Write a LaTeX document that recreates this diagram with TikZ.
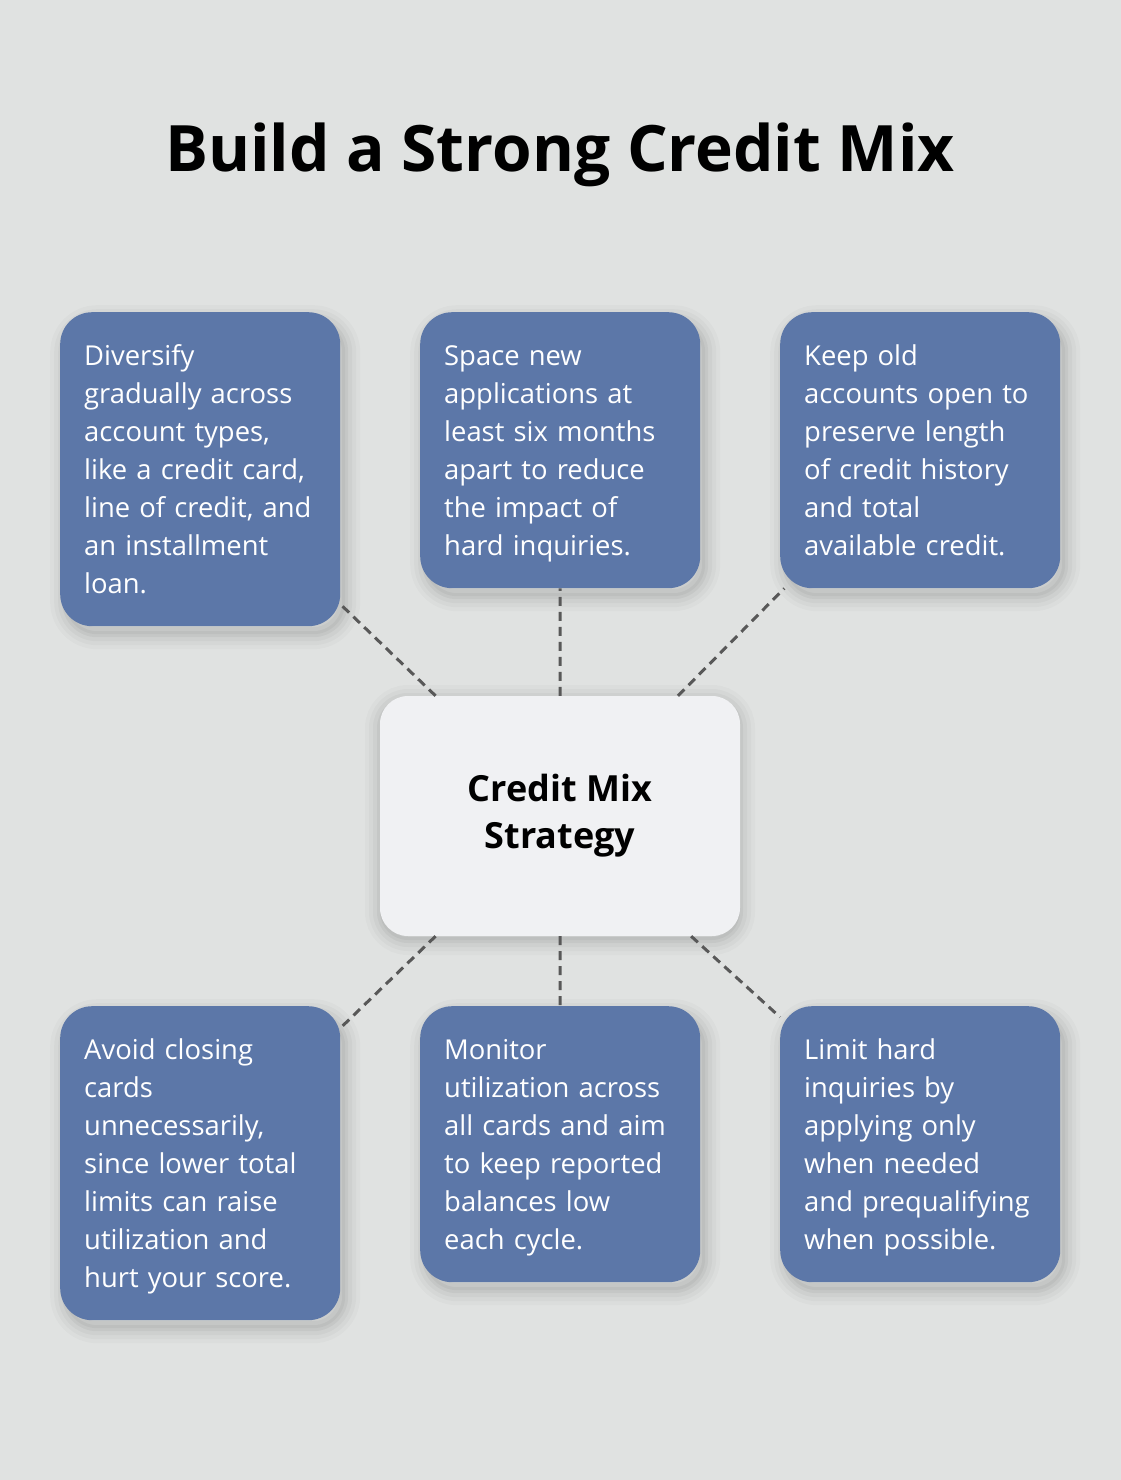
\documentclass[tikz,border=0pt]{standalone}
\usepackage{fontspec}
\setmainfont{Open Sans}
\usepackage{tikz}
\definecolor{mixbg}{HTML}{E0E2E1}
\definecolor{mixblue}{HTML}{5C77A8}
\definecolor{mixhub}{HTML}{F0F1F3}
\definecolor{mixdash}{HTML}{585858}
\tikzset{
	soft_shadow/.style = {
		preaction={draw=black, line width=30pt, opacity=.02, transform canvas={shift={(#1)}}},
		preaction={draw=black, line width=22pt, opacity=.025, transform canvas={shift={(#1)}}},
		preaction={draw=black, line width=14pt, opacity=.03, transform canvas={shift={(#1)}}},
		preaction={fill=black, draw=black, line width=6pt, opacity=.04, transform canvas={shift={(#1)}}}},% ombre floue
	cardnode/.style = {inner xsep=24pt, inner ysep=24pt, rounded corners=32pt},
	mix_tip/.style = {cardnode, anchor=north west, fill=mixblue, text=white,
		text width=232pt, align=left, font=\fontsize{27.4}{38}\selectfont,
		execute at begin node=\rule{0pt}{29.5pt},
		execute at end node=\rule[-8.5pt]{0pt}{8.5pt},
		soft_shadow={5pt,-8pt}},% carte bleue, un conseil
	mix_hub/.style = {cardnode, fill=mixhub, minimum width=360pt, minimum height=240pt,
		rounded corners=28pt, align=center, font=\fontsize{36}{47}\selectfont\bfseries,
		execute at begin node=\rule{0pt}{48pt},
		execute at end node=\rule[-6pt]{0pt}{6pt},
		soft_shadow={0pt,-4pt}},% centre
	mix_link/.style = {draw=mixdash, line width=3pt, dash pattern=on 9pt off 6pt}% pointilles
}
\begin{document}
\begin{tikzpicture}[x=1pt, y=-1pt]
	\useasboundingbox (0,0) rectangle (1120,1480);
	\fill[mixbg] (-10,-10) rectangle (1130,1490);
	\node (title) at (560,171) [anchor=base, font=\fontsize{64}{76}\selectfont\bfseries]
		{Build a Strong Credit Mix};
	\node (hub) [mix_hub] at (560,816) {Credit Mix\\Strategy};
	% rangee du haut
	\node (tl) [mix_tip] at (60,312) {Diversify\\gradually across\\account types,\\like a credit card,\\line of credit, and\\an installment\\loan.};
	\node (tm) [mix_tip] at (420,312) {Space new\\applications at\\least six months\\apart to reduce\\the impact of\\hard inquiries.};
	\node (tr) [mix_tip] at (780,312) {Keep old\\accounts open to\\preserve length\\of credit history\\and total\\available credit.};
	% rangee du bas
	\node (bl) [mix_tip] at (60,1006) {Avoid closing\\cards\\unnecessarily,\\since lower total\\limits can raise\\utilization and\\hurt your score.};
	\node (bm) [mix_tip] at (420,1006) {Monitor\\utilization across\\all cards and aim\\to keep reported\\balances low\\each cycle.};
	\node (br) [mix_tip] at (780,1006) {Limit hard\\inquiries by\\applying only\\when needed\\and prequalifying\\when possible.};
	\foreach \n in {tl,tm,tr,bl,bm,br}
		\draw[mix_link] (hub) -- (\n);
\end{tikzpicture}
\end{document}
